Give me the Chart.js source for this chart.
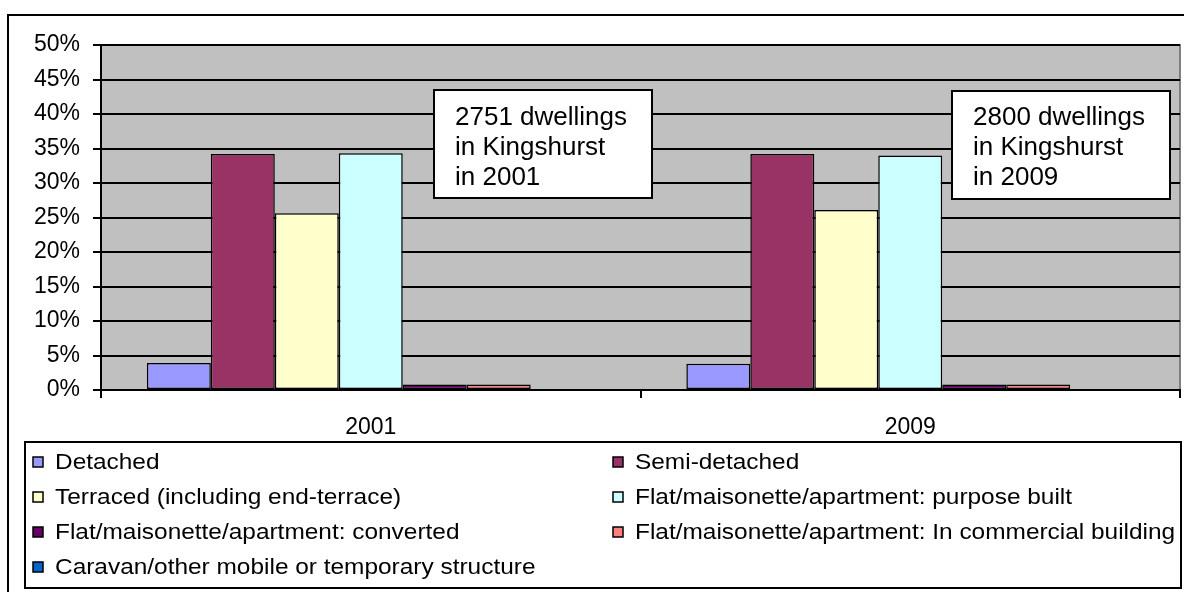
<!DOCTYPE html>
<html>
<head>
<meta charset="utf-8">
<title>Dwellings in Kingshurst</title>
<script src="https://cdn.jsdelivr.net/npm/chart.js@4/dist/chart.umd.min.js"></script>
<style>
  body { margin: 0; background: #fff; }
  canvas { display: block; }
</style>
</head>
<body>
<canvas id="dwellingChart" width="1184" height="592"></canvas>
<script>
// --- Data ---
const years = ['2001', '2009'];
const detached = [3.9, 3.8];
const semiDetached = [34.2, 34.2];
const terraced = [25.6, 26.1];
const flatPurposeBuilt = [34.3, 34.0];
const flatConverted = [0.8, 0.8];
const flatCommercial = [0.8, 0.8];
const caravan = [0, 0];
const yTicks = [0, 5, 10, 15, 20, 25, 30, 35, 40, 45, 50];
const notes = [
    ['2751 dwellings', 'in Kingshurst', 'in 2001'],
    ['2800 dwellings', 'in Kingshurst', 'in 2009']
];

const FONT = '"Liberation Sans", Arial, sans-serif';

function series(label, data, color) {
    return {
        label: label,
        data: data,
        backgroundColor: color,
        borderColor: '#000',
        borderWidth: 1.5,
        borderSkipped: false
    };
}

// --- Plugins: plot background, notes, legend ---
const excelLook = {
    id: 'excelLook',
    beforeDraw(chart) {
        const c = chart.ctx;
        const a = chart.chartArea;
        c.save();
        c.fillStyle = '#fff';
        c.fillRect(0, 0, chart.width, chart.height);
        c.strokeStyle = '#000';
        c.lineWidth = 2;
        c.strokeRect(8, 15, 1200, 600);
        c.fillStyle = '#c0c0c0';
        c.fillRect(a.left, a.top, a.right - a.left, a.bottom - a.top);
        c.strokeStyle = '#808080';
        c.strokeRect(a.left, a.top, a.right - a.left, a.bottom - a.top);
        c.restore();
    },
    afterDraw(chart) {
        const c = chart.ctx;
        c.save();

        // text boxes
        const boxes = [[434, 90], [952, 91]];
        c.font = '26px ' + FONT;
        c.textBaseline = 'alphabetic';
        c.textAlign = 'left';
        boxes.forEach((b, i) => {
            c.fillStyle = '#fff';
            c.fillRect(b[0], b[1], 218, 108);
            c.strokeStyle = '#000';
            c.lineWidth = 2;
            c.strokeRect(b[0], b[1], 218, 108);
            c.fillStyle = '#000';
            notes[i].forEach((line, j) => {
                c.fillText(line, b[0] + 21, 125 + j * 30);
            });
        });

        // legend
        c.strokeStyle = '#000';
        c.lineWidth = 2;
        c.strokeRect(25, 442, 1156, 146);
        c.font = '22px ' + FONT;
        c.textBaseline = 'middle';
        const colX = [33, 613];
        chart.data.datasets.forEach((ds, i) => {
            const x = colX[i % 2];
            const y = 462 + Math.floor(i / 2) * 35;
            c.fillStyle = ds.backgroundColor;
            c.fillRect(x, y - 5, 10, 10);
            c.lineWidth = 1.5;
            c.strokeRect(x, y - 5, 10, 10);
            c.fillStyle = '#000';
            // text in the original is a little wider than plain Arial
            c.save();
            c.translate(x + 22, y + 1);
            c.scale(1.11, 1);
            c.fillText(ds.label, 0, 0);
            c.restore();
        });
        c.restore();
    }
};

const ctx = document.getElementById('dwellingChart').getContext('2d');
const dwellingChart = new Chart(ctx, {
    type: 'bar',
    data: {
        labels: years,
        datasets: [
            series('Detached', detached, '#9999ff'),
            series('Semi-detached', semiDetached, '#993366'),
            series('Terraced (including end-terrace)', terraced, '#ffffcc'),
            series('Flat/maisonette/apartment: purpose built', flatPurposeBuilt, '#ccffff'),
            series('Flat/maisonette/apartment: converted', flatConverted, '#660066'),
            series('Flat/maisonette/apartment: In commercial building', flatCommercial, '#ff8080'),
            series('Caravan/other mobile or temporary structure', caravan, '#0066cc')
        ]
    },
    options: {
        responsive: false,
        animation: false,
        layout: { padding: { top: 45, right: 4, bottom: 0, left: 0 } },
        datasets: {
            bar: { barPercentage: 1, categoryPercentage: 0.83 }
        },
        plugins: {
            legend: { display: false },
            tooltip: { enabled: false }
        },
        scales: {
            x: {
                grid: {
                    drawOnChartArea: false,
                    color: '#000',
                    lineWidth: 2,
                    tickLength: 8,
                    offset: true
                },
                border: { display: true, color: '#000', width: 2 },
                ticks: {
                    color: '#000',
                    font: { family: FONT, size: 23 },
                    padding: 16
                },
                afterFit(scale) { scale.height = 202; }
            },
            y: {
                min: 0,
                max: 50,
                afterBuildTicks(scale) {
                    scale.ticks = yTicks.map(v => ({ value: v }));
                },
                grid: { color: '#000', lineWidth: 2, tickLength: 8 },
                border: { display: true, color: '#000', width: 2 },
                ticks: {
                    color: '#000',
                    font: { family: FONT, size: 23 },
                    padding: 13,
                    callback: v => v + '%'
                },
                afterFit(scale) { scale.width = 101; }
            }
        }
    },
    plugins: [excelLook]
});
</script>
</body>
</html>
